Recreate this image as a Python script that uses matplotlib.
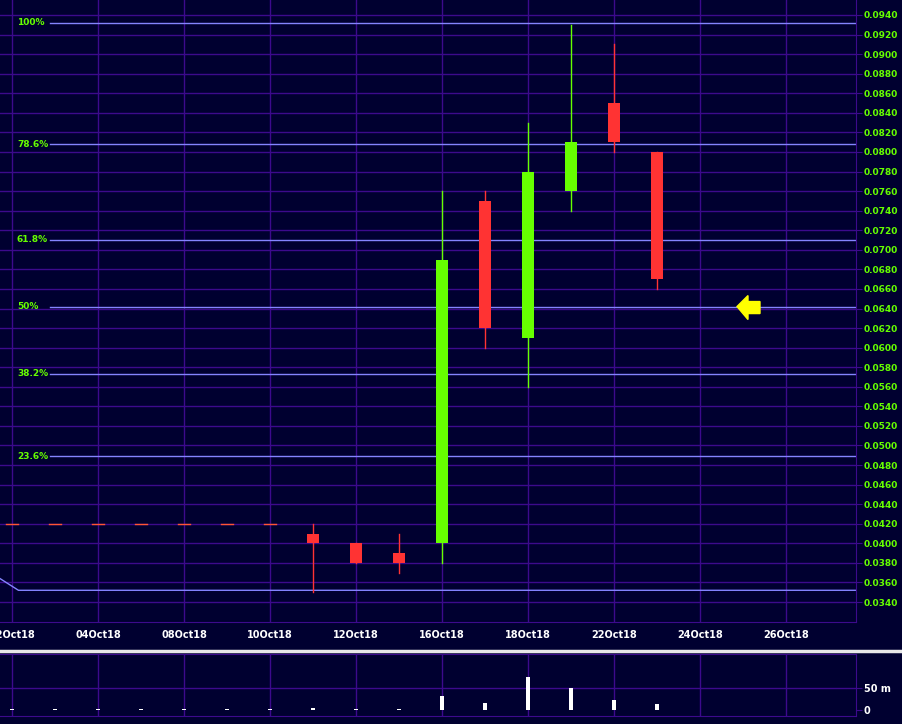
import matplotlib
matplotlib.use('Agg')

import matplotlib.pyplot as plt
from matplotlib.patches import Polygon
from matplotlib.lines import Line2D

# trading days shown on the axis (weekends skipped)
dates = ['02Oct18', '03Oct18', '04Oct18', '05Oct18', '08Oct18', '09Oct18', '10Oct18',
         '11Oct18', '12Oct18', '15Oct18', '16Oct18', '17Oct18', '18Oct18', '19Oct18',
         '22Oct18', '23Oct18', '24Oct18', '25Oct18', '26Oct18']

opens  = [0.0420, 0.0420, 0.0420, 0.0420, 0.0420, 0.0420, 0.0420,
          0.0410, 0.0400, 0.0390, 0.0400, 0.0750, 0.0610, 0.0760, 0.0850, 0.0800]
highs  = [0.0420, 0.0420, 0.0420, 0.0420, 0.0420, 0.0420, 0.0420,
          0.0420, 0.0400, 0.0410, 0.0760, 0.0760, 0.0830, 0.0930, 0.0910, 0.0800]
lows   = [0.0420, 0.0420, 0.0420, 0.0420, 0.0420, 0.0420, 0.0420,
          0.0350, 0.0380, 0.0370, 0.0380, 0.0600, 0.0560, 0.0740, 0.0800, 0.0660]
closes = [0.0420, 0.0420, 0.0420, 0.0420, 0.0420, 0.0420, 0.0420,
          0.0400, 0.0380, 0.0380, 0.0690, 0.0620, 0.0780, 0.0810, 0.0810, 0.0670]
volume = [2, 2, 2, 2, 2, 2, 2, 4, 2, 2, 30, 16, 73, 50, 23, 14]  # millions

fib_labels = ['100%', '78.6%', '61.8%', '50%', '38.2%', '23.6%']
fib_ratios = [1.0, 0.786, 0.618, 0.5, 0.382, 0.236]
fib_low, fib_high = 0.0352, 0.0932

price_ticks = [0.034 + 0.002 * k for k in range(31)]

BG = '#000030'
GRID = '#3c0a8c'
FIB = '#8484ff'
GREEN = '#66ff00'
RED = '#ff3333'

fig = plt.figure(figsize=(9.03, 7.24), dpi=100, facecolor=BG)
ax = fig.add_axes([0, 102 / 724, 856 / 903, 622 / 724], facecolor=BG)
axv = fig.add_axes([0, 8 / 724, 856 / 903, 62 / 724], facecolor=BG)

x0 = -12 / 43
x1 = (856 - 12) / 43
for a in (ax, axv):
    a.set_xlim(x0, x1)
    for s in ('left', 'top'):
        a.spines[s].set_visible(False)
    a.spines['right'].set_color(GRID)
    a.spines['bottom'].set_color(GRID)
    for i in range(0, len(dates), 2):
        a.axvline(i, color=GRID, lw=1, zorder=0)
axv.spines['top'].set_visible(True)
axv.spines['top'].set_color(GRID)

ax.set_ylim(0.03196, 0.09553)
for v in price_ticks:
    ax.axhline(v, color=GRID, lw=1, zorder=0)

# fibonacci levels
for lab, r in zip(fib_labels, fib_ratios):
    v = fib_low + r * (fib_high - fib_low)
    ax.plot([50 / 43 + x0, x1], [v, v], color=FIB, lw=1, zorder=1)
    ax.text(17 / 43 + x0, v, lab, color=GREEN, fontsize=6.5, fontweight='bold',
            va='center', ha='left')
ax.plot([x0, 0.15, x1], [fib_low + 0.0012, fib_low, fib_low], color=FIB, lw=1, zorder=1)

# candles
for i, (o, h, l, c) in enumerate(zip(opens, highs, lows, closes)):
    col = GREEN if c > o else RED
    if h == l:
        ax.plot([i - 0.13, i + 0.13], [o, o], color='#ff5533', lw=1, zorder=3)
        continue
    ax.plot([i, i], [l, h], color=col, lw=1, zorder=2)
    ax.bar(i, abs(c - o), bottom=min(o, c), width=0.27, color=col, zorder=3)

# yellow arrow at the 50% level
ya = fib_low + 0.5 * (fib_high - fib_low)
dy = 0.0001022
xa = (737 - 12) / 43
arrow = Polygon([(xa, ya), (xa + 11 / 43, ya + 11 * dy), (xa + 11 / 43, ya + 5 * dy),
                 (xa + 23 / 43, ya + 5 * dy), (xa + 23 / 43, ya - 7 * dy),
                 (xa + 11 / 43, ya - 7 * dy), (xa + 11 / 43, ya - 13 * dy)],
                closed=True, color='#ffff00', zorder=5)
ax.add_patch(arrow)

ax.yaxis.tick_right()
ax.set_yticks(price_ticks)
ax.set_yticklabels(['%.4f' % v for v in price_ticks])
ax.tick_params(axis='y', colors=GRID, labelcolor=GREEN, labelsize=6.5, length=4, pad=1.5)
for t in ax.get_yticklabels():
    t.set_fontweight('bold')
ax.set_xticks(range(0, len(dates), 2))
ax.set_xticklabels(dates[::2])
ax.tick_params(axis='x', colors=GRID, labelcolor='white', labelsize=7, length=0, pad=6)
for t in ax.get_xticklabels():
    t.set_fontweight('bold')

# volume
axv.set_ylim(-13.6, 125)
axv.bar(range(len(volume)), volume, width=0.09, color='white', zorder=3)
axv.axhline(50, color=GRID, lw=1, zorder=0)
axv.yaxis.tick_right()
axv.set_yticks([0, 50])
axv.set_yticklabels(['0', '50 m'])
axv.tick_params(axis='y', colors=GRID, labelcolor='white', labelsize=7, length=4, pad=1.5)
for t in axv.get_yticklabels():
    t.set_fontweight('bold')
axv.set_xticks([])

# separator between panels
fig.add_artist(Line2D([0, 1], [1 - 651 / 724, 1 - 651 / 724], color='#e8e8e8', lw=2.5,
                      transform=fig.transFigure))

fig.savefig('out.png', dpi=100, facecolor=BG)
